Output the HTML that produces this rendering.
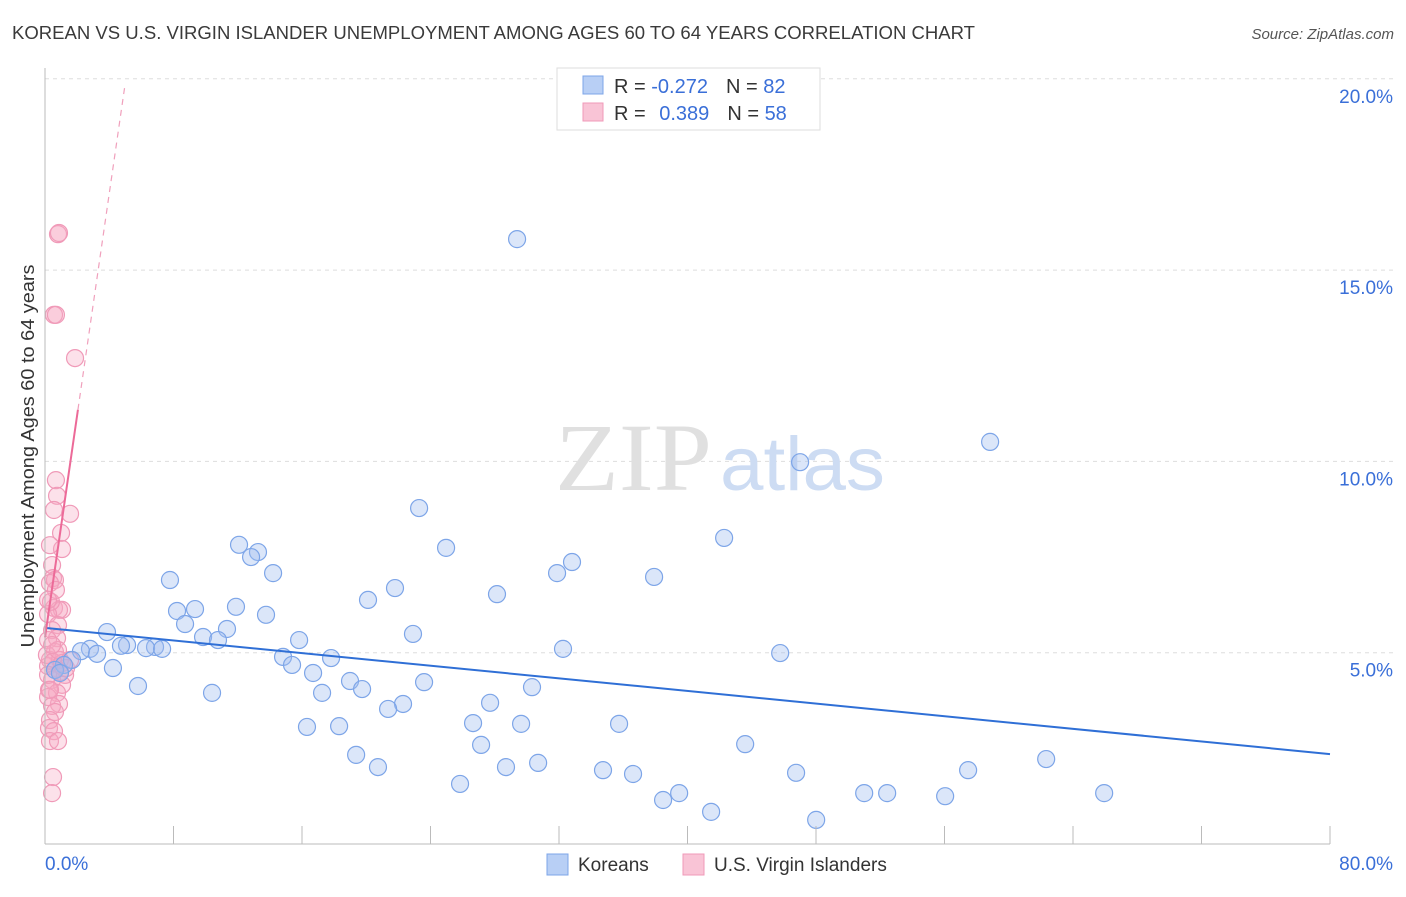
<!DOCTYPE html>
<html><head><meta charset="utf-8"><style>
body{margin:0;background:#fff;font-family:"Liberation Sans",sans-serif;}
svg text{font-family:"Liberation Sans",sans-serif;}
</style></head><body>
<svg id="chart" width="1406" height="892" xmlns="http://www.w3.org/2000/svg">
<text x="12" y="39" font-size="18" fill="#3a3a3a" textLength="963" lengthAdjust="spacingAndGlyphs">KOREAN VS U.S. VIRGIN ISLANDER UNEMPLOYMENT AMONG AGES 60 TO 64 YEARS CORRELATION CHART</text>
<text x="1394" y="39" font-size="15" fill="#555" text-anchor="end" font-style="italic">Source: ZipAtlas.com</text>
<g id="grid"></g>
<g>
<text x="712" y="490" font-size="96" fill="#e0e0e0" text-anchor="end" textLength="157" lengthAdjust="spacingAndGlyphs" style="font-family:'Liberation Serif',serif">ZIP</text>
<text x="720" y="490" font-size="76" fill="#cddcf3" textLength="165" lengthAdjust="spacingAndGlyphs">atlas</text>
</g>
<g id="points"></g>
<g id="trends"></g>
<g id="axes"></g>
<text transform="translate(34,456) rotate(-90)" font-size="18" fill="#333" text-anchor="middle" textLength="383" lengthAdjust="spacingAndGlyphs">Unemployment Among Ages 60 to 64 years</text>
<g>
<rect x="557" y="68" width="263" height="62" fill="#fff" stroke="#ddd"/>
<rect x="583" y="76" width="20" height="18" fill="#b8cff5" stroke="#7da5e8"/>
<rect x="583" y="103" width="20" height="18" fill="#f9c4d6" stroke="#f09ab8"/>
<text x="614" y="93" font-size="20" fill="#333">R = <tspan fill="#3a6fd8">-0.272</tspan><tspan dx="18">N = </tspan><tspan fill="#3a6fd8">82</tspan></text>
<text x="614" y="120" font-size="20" fill="#333">R = <tspan fill="#3a6fd8" dx="8">0.389</tspan><tspan dx="18">N = </tspan><tspan fill="#3a6fd8">58</tspan></text>
</g>
<g>
<rect x="547" y="854" width="21" height="21" fill="#b8cff5" stroke="#7da5e8"/>
<text x="578" y="871" font-size="19" fill="#333">Koreans</text>
<rect x="683" y="854" width="21" height="21" fill="#f9c4d6" stroke="#f09ab8"/>
<text x="714" y="871" font-size="19" fill="#333">U.S. Virgin Islanders</text>
</g>
</svg>
<script>
const blueX=[29.39,58.84,47.01,23.29,42.28,24.97,12.08,13.26,12.83,32.81,31.88,14.20,37.92,7.78,21.79,28.14,20.11,11.89,8.22,9.34,13.76,8.72,11.33,3.86,22.91,9.84,10.77,15.82,5.11,4.73,6.85,6.29,7.29,2.80,2.24,3.24,32.25,45.77,14.82,17.81,15.38,1.68,1.18,4.23,0.62,16.69,18.99,23.60,5.79,30.32,19.74,17.25,10.40,27.71,22.29,21.36,26.65,29.64,35.74,16.31,18.31,43.59,27.15,62.33,19.37,30.70,20.73,28.70,34.74,57.47,36.61,46.76,25.84,39.48,51.00,52.43,65.94,38.48,56.04,41.47,48.01,0.93];
const blueY=[15.81,10.51,9.98,8.78,8.00,7.74,7.82,7.63,7.50,7.37,7.08,7.08,6.98,6.90,6.69,6.53,6.38,6.20,6.09,6.14,5.99,5.75,5.62,5.54,5.49,5.41,5.33,5.33,5.20,5.18,5.15,5.12,5.10,5.10,5.04,4.97,5.10,4.99,4.89,4.86,4.68,4.81,4.68,4.60,4.55,4.47,4.26,4.23,4.13,4.10,4.05,3.95,3.95,3.69,3.66,3.53,3.16,3.14,3.14,3.06,3.08,2.61,2.59,2.22,2.33,2.12,2.01,2.01,1.93,1.93,1.83,1.86,1.57,1.33,1.33,1.33,1.33,1.15,1.25,0.84,0.63,4.47];
const pinkX=[0.81,0.87,0.56,0.68,1.87,0.68,0.75,1.56,0.56,1.00,1.06,0.31,0.44,0.50,0.62,0.31,0.56,1.06,0.87,0.19,0.81,0.44,0.75,0.19,0.62,0.31,0.19,0.68,0.93,1.25,0.44,1.06,0.25,0.75,0.19,0.87,0.44,0.62,0.31,0.25,0.56,0.31,0.81,0.50,0.44,0.12,0.93,0.50,0.19,1.06,0.37,0.68,0.19,0.31,0.81,1.31,1.56,0.44];
const pinkY=[15.94,15.97,13.83,13.83,12.70,9.51,9.10,8.63,8.73,8.13,7.71,7.81,7.29,6.95,6.90,6.82,6.17,6.12,6.12,6.01,5.72,5.59,5.38,5.33,5.02,4.81,4.65,4.60,4.50,4.42,4.29,4.16,4.03,3.95,3.84,3.66,3.61,3.45,3.24,3.03,2.95,2.69,2.69,1.75,1.33,4.94,4.81,4.76,4.42,4.73,6.33,6.64,6.38,4.03,5.07,4.60,4.81,5.20];
const blueTrendX=[0,80], blueTrendY=[5.65,2.35];
const pinkTrendX=[0,2.05], pinkTrendY=[5.4,11.35];
const pinkDashX=[2.05,4.98], pinkDashY=[11.35,19.84];
const yTicks=[5,10,15,20], yTickLabels=["5.0%","10.0%","15.0%","20.0%"];
const xTicks=[0,8,16,24,32,40,48,56,64,72,80];

const NS="http://www.w3.org/2000/svg";
const X0=45,X1=1330,Y0=844,PY=38.26;
const sx=v=>X0+(X1-X0)*v/80, sy=v=>Y0-PY*v;
function mk(tag,attrs,parent){const e=document.createElementNS(NS,tag);for(const k in attrs)e.setAttribute(k,attrs[k]);parent.appendChild(e);return e;}
const grid=document.getElementById('grid'),axes=document.getElementById('axes'),pts=document.getElementById('points'),tr=document.getElementById('trends');
yTicks.forEach((t,i)=>{
  const l=mk('line',{x1:X0,x2:1394,y1:sy(t),y2:sy(t),stroke:'#ddd','stroke-dasharray':'4,4'},grid);
  
  
  const tx=mk('text',{x:1393,y:sy(t)+24,'font-size':19,fill:'#3a6fd8','text-anchor':'end'},axes);
  tx.textContent=yTickLabels[i];
  
  
});
const ax=mk('line',{x1:X0,x2:X0,y1:68,y2:Y0,stroke:'#bbb'},axes);


const bx=mk('line',{x1:X0,x2:X1,y1:Y0,y2:Y0,stroke:'#bbb'},axes);


xTicks.forEach(t=>{
  const l=mk('line',{x1:sx(t),x2:sx(t),y1:826,y2:Y0,stroke:'#bbb'},axes);
  
  
});
const xl0=mk('text',{x:45,y:870,'font-size':19,fill:'#3a6fd8'},axes);xl0.textContent='0.0%';


const xl1=mk('text',{x:1393,y:870,'font-size':19,fill:'#3a6fd8','text-anchor':'end'},axes);xl1.textContent='80.0%';


pinkX.forEach((v,i)=>{
  const c=mk('circle',{cx:sx(v),cy:sy(pinkY[i]),r:8.5,fill:'rgba(245,170,195,0.35)',stroke:'#f09ab8','stroke-width':1.2},pts);
  
  
});
blueX.forEach((v,i)=>{
  const c=mk('circle',{cx:sx(v),cy:sy(blueY[i]),r:8.5,fill:'rgba(160,190,240,0.38)',stroke:'#7da5e8','stroke-width':1.2},pts);
  
  
});
const bl=mk('line',{x1:sx(blueTrendX[0]),y1:sy(blueTrendY[0]),x2:sx(blueTrendX[1]),y2:sy(blueTrendY[1]),stroke:'#2f6fd6','stroke-width':2},tr);


const pl=mk('line',{x1:sx(pinkTrendX[0]),y1:sy(pinkTrendY[0]),x2:sx(pinkTrendX[1]),y2:sy(pinkTrendY[1]),stroke:'#ec6a98','stroke-width':2},tr);


const pd=mk('line',{x1:sx(pinkDashX[0]),y1:sy(pinkDashY[0]),x2:sx(pinkDashX[1]),y2:sy(pinkDashY[1]),stroke:'#f0a0bc','stroke-width':1.2,'stroke-dasharray':'6,5'},tr);


</script>
</body></html>
